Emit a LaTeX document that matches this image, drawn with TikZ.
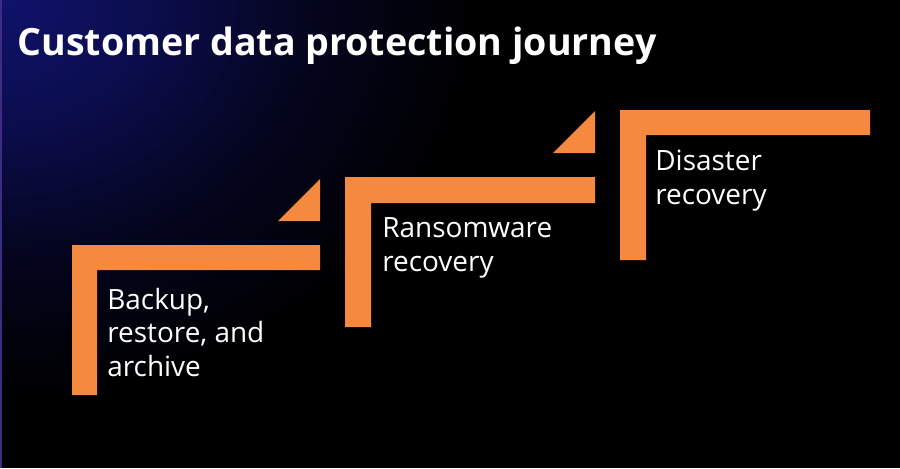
\documentclass[tikz,border=0pt]{standalone}
\usepackage{fontspec}
\setmainfont{Open Sans}
\usetikzlibrary{positioning,calc}
\definecolor{StepOrange}{RGB}{246,137,64}
\definecolor{NightBlue}{RGB}{16,18,108}
\definecolor{EdgeViolet}{RGB}{60,44,130}
\pgfdeclareradialshading{cornerglow}{\pgfpoint{0bp}{0bp}}{%
  color(0bp)=(NightBlue); color(8bp)=(NightBlue!70!black);
  color(16bp)=(NightBlue!28!black); color(25bp)=(black); color(50bp)=(black)}
\tikzset{
  stepbar/.style={fill=StepOrange, draw=none},
  steptip/.style={fill=StepOrange, draw=none},
  steplab/.style={anchor=base west, align=left, inner sep=0pt, text=white,
    font=\fontsize{15.9}{19}\selectfont},
  headline/.style={anchor=base west, inner sep=0pt, text=white,
    font=\bfseries\fontsize{21.4}{24}\selectfont},
}
\begin{document}
\begin{tikzpicture}[x=0.02cm, y=-0.02cm]

% ---------------- backdrop ----------------
\fill[black] (0,0) rectangle (900,468);
\begin{scope}
  \clip (0,0) rectangle (900,468);
  \shade[shading=cornerglow] (0,0) ellipse [x radius=480, y radius=400];
\end{scope}
\fill[EdgeViolet] (0,0) rectangle (2,468);
\useasboundingbox (0,0) rectangle (900,468);

\node[headline] (title) at (17,55) {Customer data protection journey};

% ---------------- step 1 ----------------
% label anchored on the baseline of its last line
\fill[stepbar] (72,245) -| (320,270) -| (97,395) -| cycle;
\fill[steptip] (278,221) -- (320,221) -- (320,179) -- cycle;
\node[steplab] (backup) at (107,376) {Backup,\\restore, and\\archive};

% ---------------- step 2 ----------------
\fill[stepbar] (345,177) -| (595,203) -| (371,327) -| cycle;
\fill[steptip] (553,153) -- (595,153) -- (595,111) -- cycle;
\node[steplab] (ransom) at (382,271) {Ransomware\\recovery};

% ---------------- step 3 ----------------
\fill[stepbar] (620,110) -| (870,135) -| (646,260) -| cycle;
\node[steplab] (disaster) at (655,204) {Disaster\\recovery};

\end{tikzpicture}
\end{document}
